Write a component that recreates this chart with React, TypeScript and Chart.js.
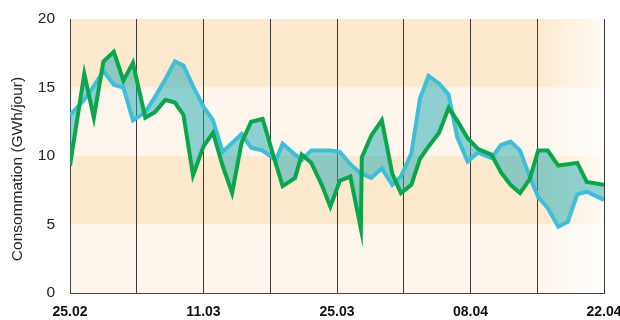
import React, { useEffect, useRef } from "react";
import { Chart, registerables } from "chart.js";

Chart.register(...registerables);

// x positions in days since 25.02
const days = [
  0, 1.5, 2.5, 3.5, 4.6, 5.6, 6.6, 7.9, 8.9, 10, 11, 11.9, 12.9, 14,
  15, 16, 17, 18, 19, 20.2, 21.6, 22.3, 23.6, 24.3, 25.3, 26.4, 27.3, 28.3,
  29.4, 30.5, 30.6, 31.6, 32.7, 33.8, 34.7, 35.8, 36.7, 37.6, 38.7, 39.7, 40.6, 41.7,
  42.8, 44.2, 45.2, 46.2, 47.2, 48.2, 49.1, 50.1, 51.2, 52.2, 53.2, 54.2, 56,
];

// green series
const measured = [
  9.3, 16.0, 12.8, 16.9, 17.6, 15.5, 16.8, 12.8, 13.2, 14.1, 13.9, 13.0, 8.6, 10.7,
  11.7, 9.3, 7.3, 11.0, 12.5, 12.7, 9.4, 7.8, 8.4, 10.1, 9.5, 7.9, 6.3, 8.2,
  8.5, 4.7, 9.9, 11.5, 12.6, 8.7, 7.3, 7.9, 9.8, 10.7, 11.7, 13.5, 12.6, 11.3,
  10.5, 10.1, 8.8, 7.9, 7.3, 8.3, 10.4, 10.4, 9.3, 9.4, 9.5, 8.1, 7.9,
];

// blue series
const forecast = [
  13.0, 14.1, 15.1, 16.2, 15.2, 15.0, 12.6, 13.2, 14.3, 15.6, 16.9, 16.6, 15.1, 13.6,
  12.6, 10.3, 10.95, 11.6, 10.6, 10.4, 9.7, 10.9, 10.1, 9.7, 10.4, 10.4, 10.4, 10.3,
  9.4, 8.7, 8.7, 8.4, 9.1, 7.9, 8.5, 10.2, 14.2, 15.85, 15.3, 14.5, 11.4, 9.6,
  10.25, 9.85, 10.8, 11.05, 10.4, 8.5, 7.0, 6.2, 4.85, 5.2, 7.2, 7.4, 6.8,
];

const dateLabels = ["25.02", "11.03", "25.03", "08.04", "22.04"];
const yTickValues = [0, 5, 10, 15, 20];
const bandEdges = [0, 5, 10, 15, 20];
const fadeStartDay = 49;
const yTitle = "Consommation (GWh/jour)";

export default function App() {
  const ref = useRef<HTMLCanvasElement>(null);

  useEffect(() => {
    if (!ref.current) return;
    const bandPlugin = {
      id: "bands",
      beforeDraw(chart: any) {
        const { ctx, chartArea: a, scales } = chart;
        const y = scales.y;
        const x = scales.x;
        ctx.save();
        for (let i = 0; i < bandEdges.length - 1; i++) {
          const top = y.getPixelForValue(bandEdges[i + 1]);
          const bottom = y.getPixelForValue(bandEdges[i]);
          ctx.fillStyle = i % 2 === 1 ? "#fde9cd" : "#fef6ec";
          ctx.fillRect(a.left, top, a.right - a.left, bottom - top);
        }
        const x0 = x.getPixelForValue(fadeStartDay);
        const g = ctx.createLinearGradient(x0, 0, a.right, 0);
        g.addColorStop(0, "rgba(255,255,255,0)");
        g.addColorStop(1, "rgba(255,255,255,0.8)");
        ctx.fillStyle = g;
        ctx.fillRect(x0, a.top, a.right - x0, a.bottom - a.top);
        ctx.restore();
      },
      afterDraw(chart: any) {
        const { ctx, chartArea: a } = chart;
        ctx.save();
        ctx.translate(18, (a.top + a.bottom) / 2 + 13);
        ctx.rotate(-Math.PI / 2);
        ctx.font = "15.5px 'Liberation Sans', Arial, sans-serif";
        ctx.fillStyle = "#222";
        ctx.textAlign = "center";
        ctx.textBaseline = "middle";
        ctx.fillText(yTitle, 0, 0);
        ctx.restore();
      },
    };

    const chart = new Chart(ref.current, {
      type: "line",
      data: {
        datasets: [
          {
            label: "measured",
            data: days.map((d, i) => ({ x: d, y: measured[i] })),
            borderColor: "#0aa64b",
            borderWidth: 4,
            pointRadius: 0,
            fill: false,
            tension: 0,
            order: 0,
          },
          {
            label: "forecast",
            data: days.map((d, i) => ({ x: d, y: forecast[i] })),
            borderColor: "#3dbfd8",
            borderWidth: 4,
            pointRadius: 0,
            fill: { target: 0 },
            backgroundColor: "rgba(30,170,180,0.5)",
            tension: 0,
            order: 1,
          },
        ],
      },
      options: {
        animation: false,
        responsive: false,
        layout: { padding: { top: 19, right: 16, left: 0, bottom: 0 } },
        plugins: { legend: { display: false }, tooltip: { enabled: false } },
        scales: {
          x: {
            type: "linear",
            min: 0,
            max: 56,
            afterFit: (s: any) => {
              s.height = 27;
              s.paddingRight = 0;
              s.paddingLeft = 0;
            },
            ticks: {
              stepSize: 7,
              autoSkip: false,
              maxRotation: 0,
              padding: 11,
              color: "#111",
              font: {
                family: "'Liberation Sans', Arial, sans-serif",
                size: 14,
                weight: "bold",
              },
              callback: (v: any) => (Number(v) % 14 === 0 ? dateLabels[Number(v) / 14] : ""),
            },
            grid: { color: "#3a3a3a", lineWidth: 1, drawTicks: false },
            border: { display: true, color: "#444", width: 1 },
          },
          y: {
            min: 0,
            max: 20,
            afterFit: (s: any) => {
              s.width = 70;
              s.paddingTop = 0;
              s.paddingBottom = 0;
            },
            afterBuildTicks: (s: any) => {
              s.ticks = yTickValues.map((v) => ({ value: v }));
            },
            ticks: {
              padding: 15,
              color: "#222",
              font: {
                family: "'Liberation Sans', Arial, sans-serif",
                size: 15.5,
              },
            },
            grid: { display: false, drawTicks: false },
            border: { display: true, color: "#444", width: 1 },
          },
        },
      },
      plugins: [bandPlugin],
    });
    return () => chart.destroy();
  }, []);

  return (
    <div style={{ position: "fixed", left: 0, top: 0, width: 620, height: 320, background: "#fff" }}>
      <canvas ref={ref} width={620} height={320} style={{ width: 620, height: 320, display: "block" }} />
    </div>
  );
}
